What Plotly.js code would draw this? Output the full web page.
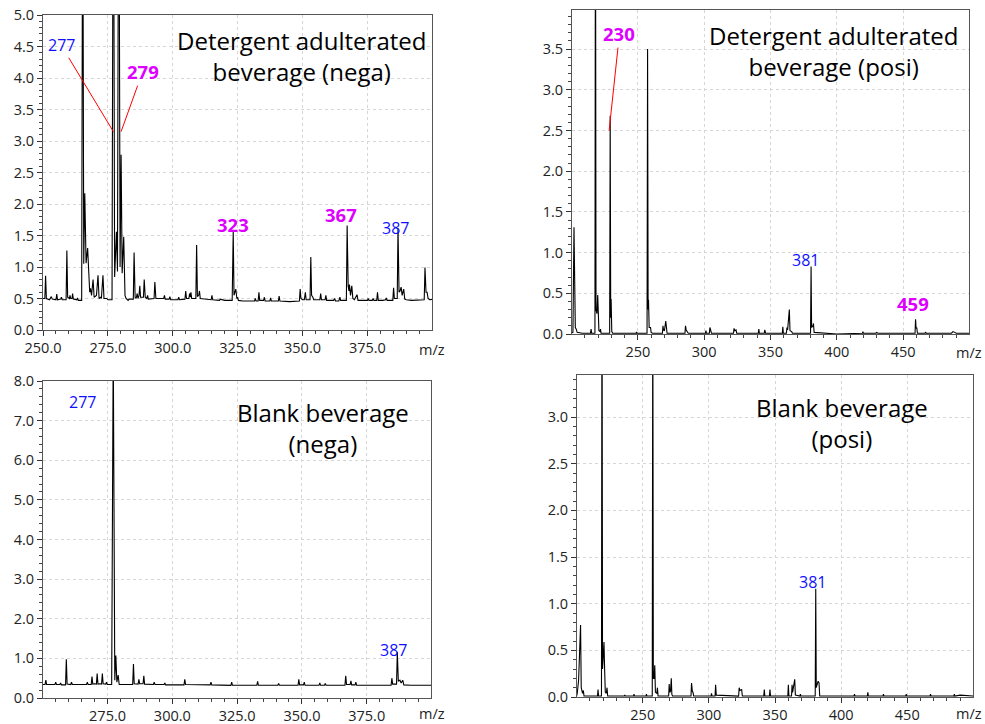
<!DOCTYPE html>
<html>
<head>
<meta charset="utf-8">
<script src="https://cdn.plot.ly/plotly-3.0.1.min.js"></script>
<style>html,body{margin:0;padding:0;background:#fff;}#chart{width:985px;height:724px;}</style>
</head>
<body>
<div id="chart"></div>
<script>
// ---- Detergent adulterated beverage (nega): profile points (m/z, intensity)
const detNega_mz = [250.0,250.7,251.0,251.3,252.5,253.2,253.6,255.0,255.3,255.6,256.8,257.1,257.4,258.9,259.2,259.5,260.2,260.4,260.7,261.2,261.4,261.7,263.0,263.3,263.6,264.9,265.3,265.7,266.1,266.6,267.2,267.6,268.0,268.3,268.7,269.3,269.7,270.6,271.2,271.6,272.1,272.5,273.1,273.5,274.6,275.0,276.6,277.1,277.6,278.3,278.7,279.2,279.7,280.1,280.5,281.1,281.6,282.0,282.8,283.2,284.8,285.1,285.5,285.9,286.3,286.6,287.0,287.3,287.6,288.7,289.0,289.4,290.0,290.3,290.6,292.8,293.1,293.5,296.5,296.8,297.1,298.6,298.9,299.2,302.0,302.3,302.6,304.7,305.0,305.3,306.2,306.5,306.8,307.0,307.3,308.9,309.2,309.5,310.0,310.3,310.6,314.8,315.1,315.4,318.0,318.3,320.0,322.9,323.3,323.6,324.0,324.3,324.7,325.0,325.3,327.0,331.5,331.8,332.1,332.9,333.2,333.5,335.0,335.3,335.6,337.4,337.7,338.0,340.7,341.0,341.3,345.0,348.8,349.1,349.4,350.0,350.7,351.1,351.4,352.9,353.2,353.5,354.0,354.3,356.7,357.0,357.3,358.7,359.0,359.3,362.0,362.4,362.7,364.0,364.4,364.7,366.9,367.2,367.6,367.9,368.1,368.5,369.0,369.4,370.0,371.0,371.4,373.0,375.0,375.3,375.6,376.9,377.2,377.5,378.6,378.9,379.2,381.0,382.0,382.3,382.6,384.8,385.1,385.4,386.5,386.8,387.2,387.6,388.0,388.4,389.0,389.4,390.0,392.0,395.0,396.9,397.2,397.6,398.0,398.4,399.0,400.7];
const detNega_int = [0.50,0.50,0.86,0.50,0.48,0.53,0.49,0.48,0.57,0.48,0.49,0.52,0.48,0.48,1.26,0.52,0.50,0.55,0.50,0.50,0.58,0.49,0.48,0.51,0.47,0.47,8.0,1.05,2.17,1.06,1.30,0.83,0.60,0.66,0.55,0.80,0.52,0.55,0.87,0.50,0.52,0.50,0.87,0.50,0.50,0.48,0.48,9.0,0.84,1.56,0.93,9.0,1.0,2.78,0.90,1.48,0.55,0.50,0.47,0.49,0.49,1.23,0.52,0.50,0.58,0.50,0.55,0.70,0.52,0.52,0.80,0.52,0.50,0.55,0.49,0.50,0.76,0.50,0.50,0.55,0.49,0.49,0.53,0.48,0.48,0.52,0.48,0.49,0.62,0.50,0.50,0.58,0.52,0.60,0.50,0.50,1.35,0.53,0.55,0.62,0.50,0.48,0.55,0.48,0.47,0.49,0.47,0.47,1.56,0.55,0.60,0.65,0.50,0.52,0.47,0.46,0.46,0.50,0.46,0.46,0.60,0.47,0.47,0.52,0.46,0.46,0.51,0.46,0.46,0.54,0.46,0.45,0.46,0.65,0.50,0.48,0.48,0.60,0.48,0.48,1.16,0.55,0.52,0.48,0.48,0.58,0.48,0.48,0.55,0.47,0.47,0.50,0.46,0.46,0.52,0.47,0.47,1.66,0.70,0.62,0.72,0.55,0.70,0.50,0.48,0.56,0.47,0.47,0.47,0.50,0.47,0.47,0.50,0.47,0.47,0.60,0.47,0.47,0.48,0.51,0.47,0.47,0.67,0.50,0.50,1.62,0.60,0.62,0.68,0.55,0.65,0.49,0.48,0.47,0.47,0.48,0.99,0.60,0.60,0.50,0.48,0.49];

// ---- Detergent adulterated beverage (posi)
const detPosi_mz = [199.0,201.0,201.8,202.3,202.8,203.5,204.2,208.0,214.2,214.7,215.1,217.6,218.0,218.4,219.1,219.7,220.2,220.6,221.5,221.8,222.2,228.7,229.1,229.5,229.8,230.3,231.0,240.0,248.5,249.0,249.5,256.9,257.3,257.7,258.0,258.5,259.5,260.0,261.0,268.5,268.9,269.3,270.0,271.0,271.5,272.0,285.5,285.9,286.4,287.5,288.0,300.9,301.3,301.7,303.9,304.3,304.8,305.5,322.1,322.5,323.0,324.0,324.5,340.8,341.2,341.6,345.3,345.7,346.3,358.9,359.3,359.7,362.0,362.4,362.9,364.2,364.7,366.0,366.5,380.2,380.6,381.0,382.0,382.4,382.9,400.0,419.3,419.7,420.1,429.5,430.0,431.0,459.0,459.4,459.8,460.3,460.8,466.5,467.0,467.5,486.5,487.6,489.0,490.0,500.0];
const detPosi_int = [0.01,0.02,1.31,0.30,0.08,0.06,0.02,0.01,0.01,0.06,0.01,0.01,6.0,0.30,0.25,0.48,0.15,0.04,0.03,0.06,0.01,0.01,2.68,0.20,0.43,0.03,0.01,0.01,0.01,0.02,0.01,0.01,3.50,0.30,0.42,0.08,0.08,0.02,0.01,0.01,0.10,0.05,0.04,0.16,0.02,0.01,0.01,0.10,0.05,0.03,0.01,0.01,0.04,0.01,0.01,0.08,0.03,0.01,0.01,0.07,0.04,0.05,0.01,0.01,0.06,0.01,0.01,0.05,0.01,0.01,0.09,0.01,0.01,0.08,0.05,0.30,0.04,0.03,0.01,0.01,0.83,0.08,0.10,0.13,0.02,0.00,0.01,0.03,0.01,0.01,0.02,0.01,0.01,0.18,0.07,0.08,0.01,0.01,0.02,0.01,0.01,0.03,0.02,0.01,0.01];

// ---- Blank beverage (nega)
const blkNega_mz = [250.1,250.9,251.2,251.5,254.7,255.0,255.3,256.6,256.9,257.2,258.8,259.1,259.4,260.8,261.1,261.4,266.9,267.2,267.5,268.7,269.0,269.3,270.0,270.7,271.0,271.3,272.0,272.7,273.0,273.3,274.3,274.6,274.9,276.6,277.2,277.8,278.2,278.6,279.1,279.5,284.7,285.0,285.3,286.8,287.1,287.4,288.7,289.0,289.3,292.7,293.0,293.3,296.8,297.1,297.4,304.5,304.8,305.1,314.6,314.9,315.2,322.6,322.9,323.2,332.6,332.9,333.2,340.7,341.0,341.3,348.5,348.8,349.1,350.6,350.9,351.2,356.6,356.9,357.2,358.7,359.0,359.3,366.6,366.9,367.2,368.6,368.9,369.2,370.5,370.8,371.1,384.4,384.7,385.0,386.5,386.8,387.2,387.8,388.3,388.9,389.3,392.0,399.8];
const blkNega_int = [0.34,0.34,0.45,0.34,0.34,0.40,0.34,0.34,0.38,0.33,0.33,0.98,0.35,0.34,0.40,0.34,0.34,0.40,0.34,0.34,0.54,0.35,0.36,0.35,0.62,0.35,0.36,0.35,0.62,0.36,0.35,0.40,0.34,0.34,9.0,0.45,1.07,0.40,0.58,0.34,0.34,0.86,0.36,0.35,0.47,0.36,0.36,0.56,0.35,0.34,0.40,0.34,0.34,0.38,0.33,0.33,0.47,0.34,0.33,0.40,0.33,0.32,0.40,0.32,0.32,0.42,0.32,0.32,0.37,0.32,0.32,0.47,0.33,0.33,0.40,0.32,0.32,0.38,0.32,0.32,0.37,0.32,0.32,0.56,0.34,0.34,0.43,0.33,0.33,0.40,0.32,0.32,0.50,0.35,0.35,1.16,0.42,0.45,0.38,0.45,0.33,0.32,0.32];

// ---- Blank beverage (posi)
const blkPosi_mz = [200.0,200.5,201.5,203.0,203.5,204.0,204.5,205.1,205.6,215.8,216.2,216.6,218.8,219.2,219.6,220.2,220.7,221.2,221.7,222.5,223.0,223.5,236.0,236.4,236.8,243.0,243.4,243.8,252.4,252.8,253.2,257.2,257.6,258.0,258.6,259.1,259.6,260.6,261.1,261.6,269.6,270.0,270.4,271.0,271.6,272.0,272.5,286.5,286.9,287.5,288.0,288.5,301.6,302.0,302.4,304.7,305.1,305.6,322.5,322.9,323.5,324.8,325.3,341.5,341.9,342.3,345.8,346.2,346.6,359.7,360.1,360.5,362.5,362.9,363.3,364.9,365.4,368.8,369.2,369.6,380.4,380.8,381.2,382.0,382.6,383.3,383.8,409.7,410.1,410.5,419.8,420.2,420.6,431.6,432.0,432.4,448.8,449.2,449.6,467.2,467.6,468.0,485.2,485.6,486.0,490.0,500.0];
const blkPosi_int = [0.01,0.04,0.18,0.77,0.10,0.07,0.04,0.07,0.01,0.01,0.08,0.01,0.01,5.0,0.30,0.45,0.59,0.29,0.05,0.04,0.10,0.01,0.01,0.02,0.01,0.01,0.03,0.01,0.01,0.03,0.01,0.01,4.5,0.20,0.20,0.34,0.05,0.04,0.10,0.01,0.01,0.14,0.05,0.06,0.20,0.03,0.01,0.01,0.15,0.06,0.05,0.01,0.01,0.04,0.01,0.01,0.13,0.02,0.01,0.10,0.07,0.08,0.01,0.01,0.08,0.01,0.01,0.08,0.01,0.01,0.13,0.01,0.01,0.13,0.05,0.19,0.02,0.01,0.03,0.01,0.01,1.16,0.10,0.14,0.17,0.15,0.01,0.01,0.03,0.01,0.01,0.05,0.01,0.01,0.03,0.01,0.01,0.03,0.01,0.01,0.03,0.01,0.01,0.03,0.01,0.02,0.01];

// ---- Labels
const panelTitles = ['Detergent adulterated<br>beverage (nega)','Detergent adulterated<br>beverage (posi)','Blank beverage<br>(nega)','Blank beverage<br>(posi)'];
const xAxisLabel = 'm/z';

const BLUE = '#1010ff', MAG = '#dd00ff';
const FONT = 'Open Sans, Noto Sans, sans-serif';

function trace(x, y, xa, ya) {
  return {x: x, y: y, xaxis: xa, yaxis: ya, type: 'scatter', mode: 'lines',
          line: {color: '#000', width: 1.1}, hoverinfo: 'skip', showlegend: false};
}
const data = [
  trace(detNega_mz, detNega_int, 'x', 'y'),
  trace(detPosi_mz, detPosi_int, 'x2', 'y2'),
  trace(blkNega_mz, blkNega_int, 'x3', 'y3'),
  trace(blkPosi_mz, blkPosi_int, 'x4', 'y4')
];

function common(extra) {
  return Object.assign({tick0: 0,
    showline: true, linecolor: '#555', linewidth: 1, mirror: true,
    ticks: 'outside', ticklen: 5, tickcolor: '#333', tickwidth: 1,
    showgrid: true, gridcolor: '#d6d6d6', griddash: 'dot', gridwidth: 1, zeroline: false,
    tickfont: {family: FONT, size: 14.5, color: '#222'}}, extra);
}
function xax(domain, range, dtick, minorDtick, fmt, anchor) {
  return common({domain: domain, range: range, dtick: dtick, tickformat: fmt, anchor: anchor,
    minor: {dtick: minorDtick, ticks: 'outside', ticklen: 3, tickcolor: '#444', showgrid: false}});
}
function yax(domain, range, dtick, minorDtick, anchor) {
  return common({domain: domain, range: range, dtick: dtick, tickformat: '.1f', anchor: anchor,
    minor: {dtick: minorDtick, ticks: 'outside', ticklen: 3, tickcolor: '#444', showgrid: false}});
}

function lab(text, x, y, xr, yr, color, bold, size) {
  return {text: bold ? '<b>' + text + '</b>' : text, x: x, y: y, xref: xr, yref: yr,
    showarrow: false, font: {family: FONT, size: size, color: color}};
}
function leader(text, x, y, ax, ay, xr, yr, color, bold, size) {
  return {text: bold ? '<b>' + text + '</b>' : text, x: x, y: y, ax: ax, ay: ay,
    xref: xr, yref: yr, axref: xr, ayref: yr, showarrow: true, arrowhead: 0,
    arrowcolor: '#ff0000', arrowwidth: 1, standoff: 0, startstandoff: 0,
    font: {family: FONT, size: size, color: color}};
}
function title(text, x, y) {
  return {text: text, x: x, y: y, xref: 'paper', yref: 'paper', showarrow: false,
    xanchor: 'center', yanchor: 'middle', align: 'center',
    font: {family: FONT, size: 24, color: '#000'}};
}
function mz(x, y) {
  return {text: xAxisLabel, x: x, y: y, xref: 'paper', yref: 'paper', showarrow: false,
    xanchor: 'right', yanchor: 'middle', font: {family: FONT, size: 14.5, color: '#222'}};
}

const annotations = [
  title(panelTitles[0], 0.3056, 0.922),
  title(panelTitles[1], 0.8467, 0.9289),
  title(panelTitles[2], 0.3280, 0.4095),
  title(panelTitles[3], 0.8548, 0.4164),
  mz(447/985, 1 - 350/724), mz(984/985, 1 - 352/724),
  mz(447/985, 1 - 713/724), mz(984/985, 1 - 713/724),
  leader('277', 277.1, 3.15, 257.0, 4.52, 'x', 'y', BLUE, false, 16),
  leader('279', 280.1, 3.15, 288.4, 4.10, 'x', 'y', MAG, true, 18.5),
  lab('323', 323.3, 1.67, 'x', 'y', MAG, true, 18.5),
  lab('367', 364.7, 1.84, 'x', 'y', MAG, true, 18.5),
  lab('387', 385.7, 1.62, 'x', 'y', BLUE, false, 16),
  leader('230', 228.3, 2.50, 236.1, 3.69, 'x2', 'y2', MAG, true, 18.5),
  lab('381', 376.3, 0.91, 'x2', 'y2', BLUE, false, 16),
  lab('459', 457.3, 0.38, 'x2', 'y2', MAG, true, 18.5),
  lab('277', 265.4, 7.47, 'x3', 'y3', BLUE, false, 16),
  lab('387', 385.5, 1.21, 'x3', 'y3', BLUE, false, 16),
  lab('381', 378.0, 1.23, 'x4', 'y4', BLUE, false, 16)
];

const layout = {
  width: 985, height: 724, margin: {l: 0, r: 0, t: 0, b: 0},
  paper_bgcolor: '#fff', plot_bgcolor: '#fff', showlegend: false, hovermode: false,
  font: {family: FONT},
  xaxis:  xax([43/985, 432/985], [250, 399.9], 25, 5, '.1f', 'y'),
  yaxis:  yax([1 - 330/724, 1 - 15/724], [0, 5.0], 0.5, 0.1, 'x'),
  xaxis2: xax([572/985, 969/985], [200.3, 499.7], 50, 10, 'd', 'y2'),
  yaxis2: yax([1 - 334/724, 1 - 10/724], [0, 3.98], 0.5, 0.1, 'x2'),
  xaxis3: xax([43/985, 431/985], [250.1, 399.8], 25, 5, '.1f', 'y3'),
  yaxis3: yax([1 - 698/724, 1 - 381/724], [0, 8.0], 1.0, 0.2, 'x3'),
  xaxis4: xax([577/985, 973/985], [200.3, 499.7], 50, 10, 'd', 'y4'),
  yaxis4: yax([1 - 697/724, 1 - 375/724], [0, 3.45], 0.5, 0.1, 'x4'),
  annotations: annotations
};

Plotly.newPlot('chart', data, layout, {staticPlot: true, displayModeBar: false});
</script>
</body>
</html>
